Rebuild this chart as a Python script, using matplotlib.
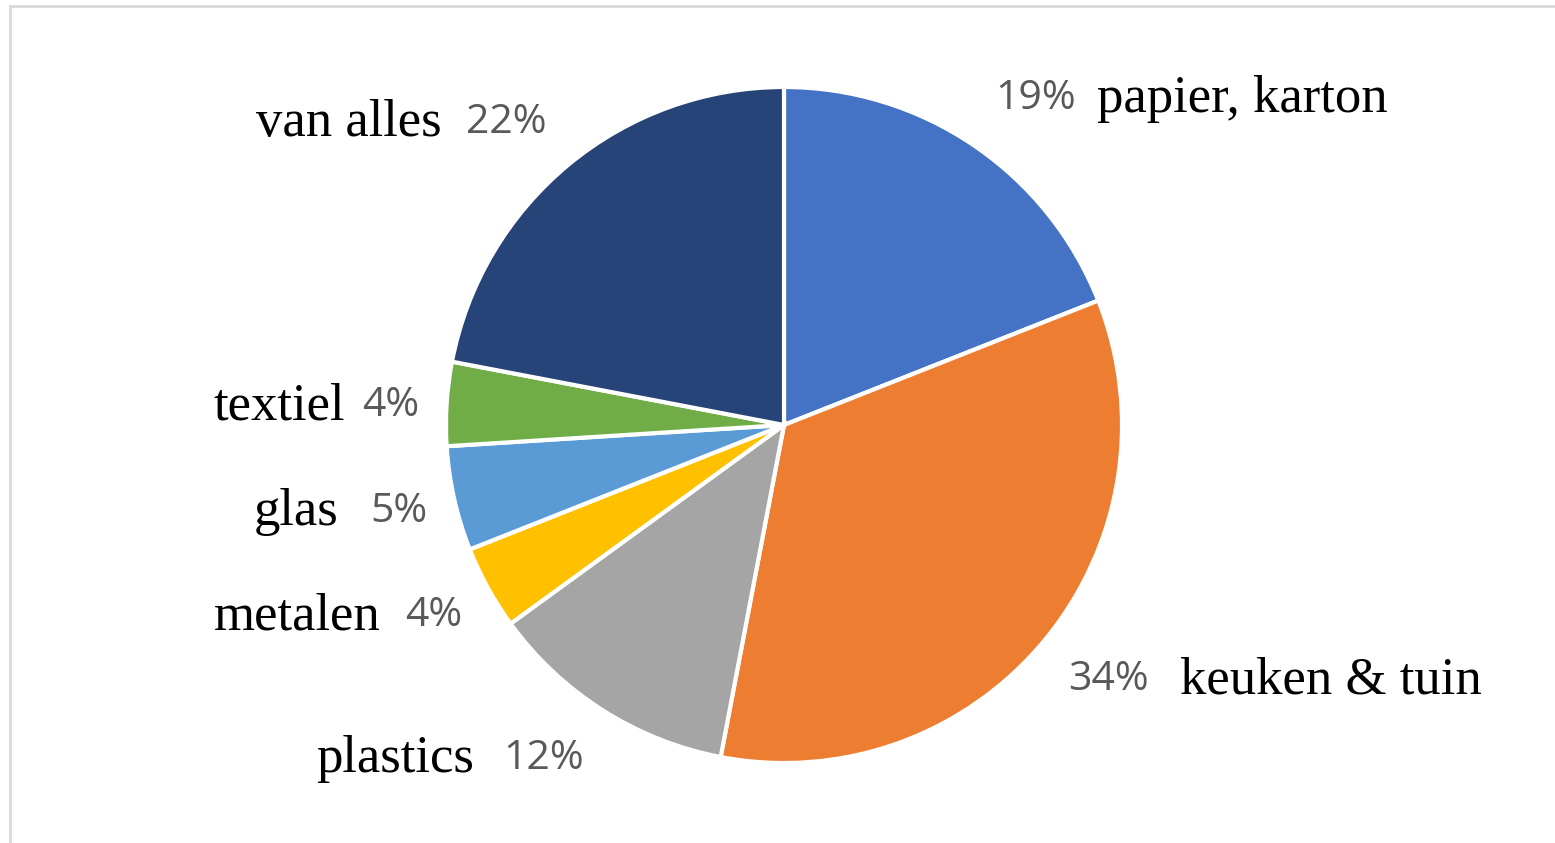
import matplotlib.pyplot as plt
from matplotlib.lines import Line2D

categories = ['papier, karton', 'keuken & tuin', 'plastics', 'metalen', 'glas', 'textiel', 'van alles']
shares = [19, 34, 12, 4, 5, 4, 22]
colors = ['#4472C4', '#ED7D31', '#A5A5A5', '#FFC000', '#5B9BD5', '#70AD47', '#264478']

W, H = 1555, 843
fig = plt.figure(figsize=(W / 100, H / 100), dpi=100)
ax = fig.add_axes([0, 0, 1, 1])

# pie, clockwise from 12 o'clock
ax.pie(shares, colors=colors, startangle=90, counterclock=False,
       center=(784, H - 425), radius=338, frame=True,
       wedgeprops=dict(edgecolor='white', linewidth=3))
ax.set_xlim(0, W)
ax.set_ylim(0, H)
ax.set_aspect('equal')
ax.axis('off')

# label placement: (name x, pct x, y)
spots = [
    (1097, 995, 99),
    (1180, 1068, 680),
    (316, 503, 759),
    (214, 405, 616),
    (254, 370, 512),
    (214, 362, 406),
    (256, 466, 123),
]
serif = dict(family='Liberation Serif', size=38, color='black', va='center', ha='left')
sans = dict(family='Open Sans', size=29.5, color='#595959', va='center', ha='left')
for name, pct, (nx, px, y) in zip(categories, shares, spots):
    ax.text(nx, H - y, name, **serif)
    ax.text(px, H - y, f'{pct}%', **sans)

# partial chart border (top and left visible)
fig.add_artist(Line2D([10 / W, 10 / W], [0, 1 - 6 / H], color='#d9d9d9', lw=2))
fig.add_artist(Line2D([10 / W, 1], [1 - 6 / H, 1 - 6 / H], color='#d9d9d9', lw=2))

fig.savefig('out.png', dpi=100, facecolor='white')
